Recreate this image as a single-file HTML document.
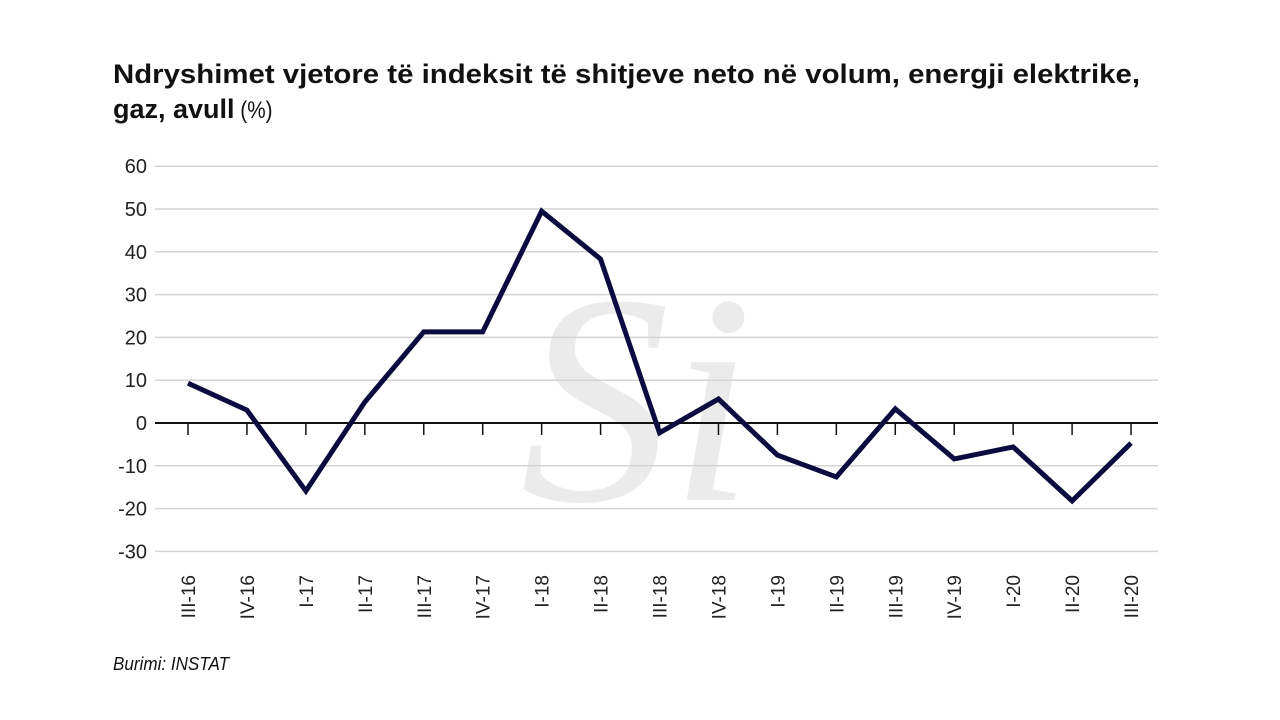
<!DOCTYPE html>
<html><head><meta charset="utf-8"><style>
html,body{margin:0;padding:0;background:#fff;}
svg{display:block;font-family:"Liberation Sans Narrow","Liberation Sans",sans-serif;}
</style></head><body>
<svg id="chart" width="1280" height="720" viewBox="0 0 1280 720">
<text x="113" y="83" font-size="27" font-weight="bold" fill="#111" textLength="1027" lengthAdjust="spacingAndGlyphs">Ndryshimet vjetore të indeksit të shitjeve neto në volum, energji elektrike,</text>
<text x="113" y="118" font-size="27" fill="#111"><tspan font-weight="bold">gaz, avull</tspan><tspan font-size="24" textLength="38" lengthAdjust="spacingAndGlyphs"> (%)</tspan></text>
<text x="520" y="500" font-family="Liberation Serif, serif" font-style="italic" font-size="300" fill="#ebebeb">Si</text>
<g id="grid"></g>
<g id="yl"></g>
<g id="xa"></g>
<g id="series"></g>
<text x="113" y="670" font-size="18" font-style="italic" fill="#111" textLength="116" lengthAdjust="spacingAndGlyphs">Burimi: INSTAT</text>
</svg>
<script>
const categories=["III-16","IV-16","I-17","II-17","III-17","IV-17","I-18","II-18","III-18","IV-18","I-19","II-19","III-19","IV-19","I-20","II-20","III-20"];
const values=[9.3,3.0,-15.9,4.9,21.3,21.3,49.5,38.3,-2.3,5.6,-7.5,-12.6,3.3,-8.4,-5.6,-18.2,-4.7];
const yTicks=[60,50,40,30,20,10,0,-10,-20,-30];
const NS="http://www.w3.org/2000/svg";
const y=v=>423-v*4.28;
const x=i=>188+i*58.94;
function mk(t,a,p){const e=document.createElementNS(NS,t);for(const k in a)e.setAttribute(k,a[k]);p.appendChild(e);return e;}
const grid=document.getElementById('grid'),yl=document.getElementById('yl'),xa=document.getElementById('xa'),se=document.getElementById('series');
yTicks.forEach(v=>{
 const l=mk('line',{x1:155,x2:1158,y1:y(v),y2:y(v),stroke:v===0?'#111':'#d4d4d4','stroke-width':v===0?2:1.5},grid);
 
 
 const t=mk('text',{x:147,y:y(v)+7,'text-anchor':'end','font-size':20,fill:'#222'},yl);
 t.textContent=v;
 
 
});
categories.forEach((c,i)=>{
 const tk=mk('line',{x1:x(i),x2:x(i),y1:423,y2:435,stroke:'#111','stroke-width':1.5},xa);
 
 
 const t=mk('text',{transform:`translate(${x(i)+7},575) rotate(-90)`,'text-anchor':'end','font-size':19,fill:'#222'},xa);
 t.textContent=c;
 
 
});
const p=mk('polyline',{points:values.map((v,i)=>x(i)+','+y(v)).join(' '),fill:'none',stroke:'#0b0b40','stroke-width':5,'stroke-linejoin':'miter'},se);


</script>
</body></html>
